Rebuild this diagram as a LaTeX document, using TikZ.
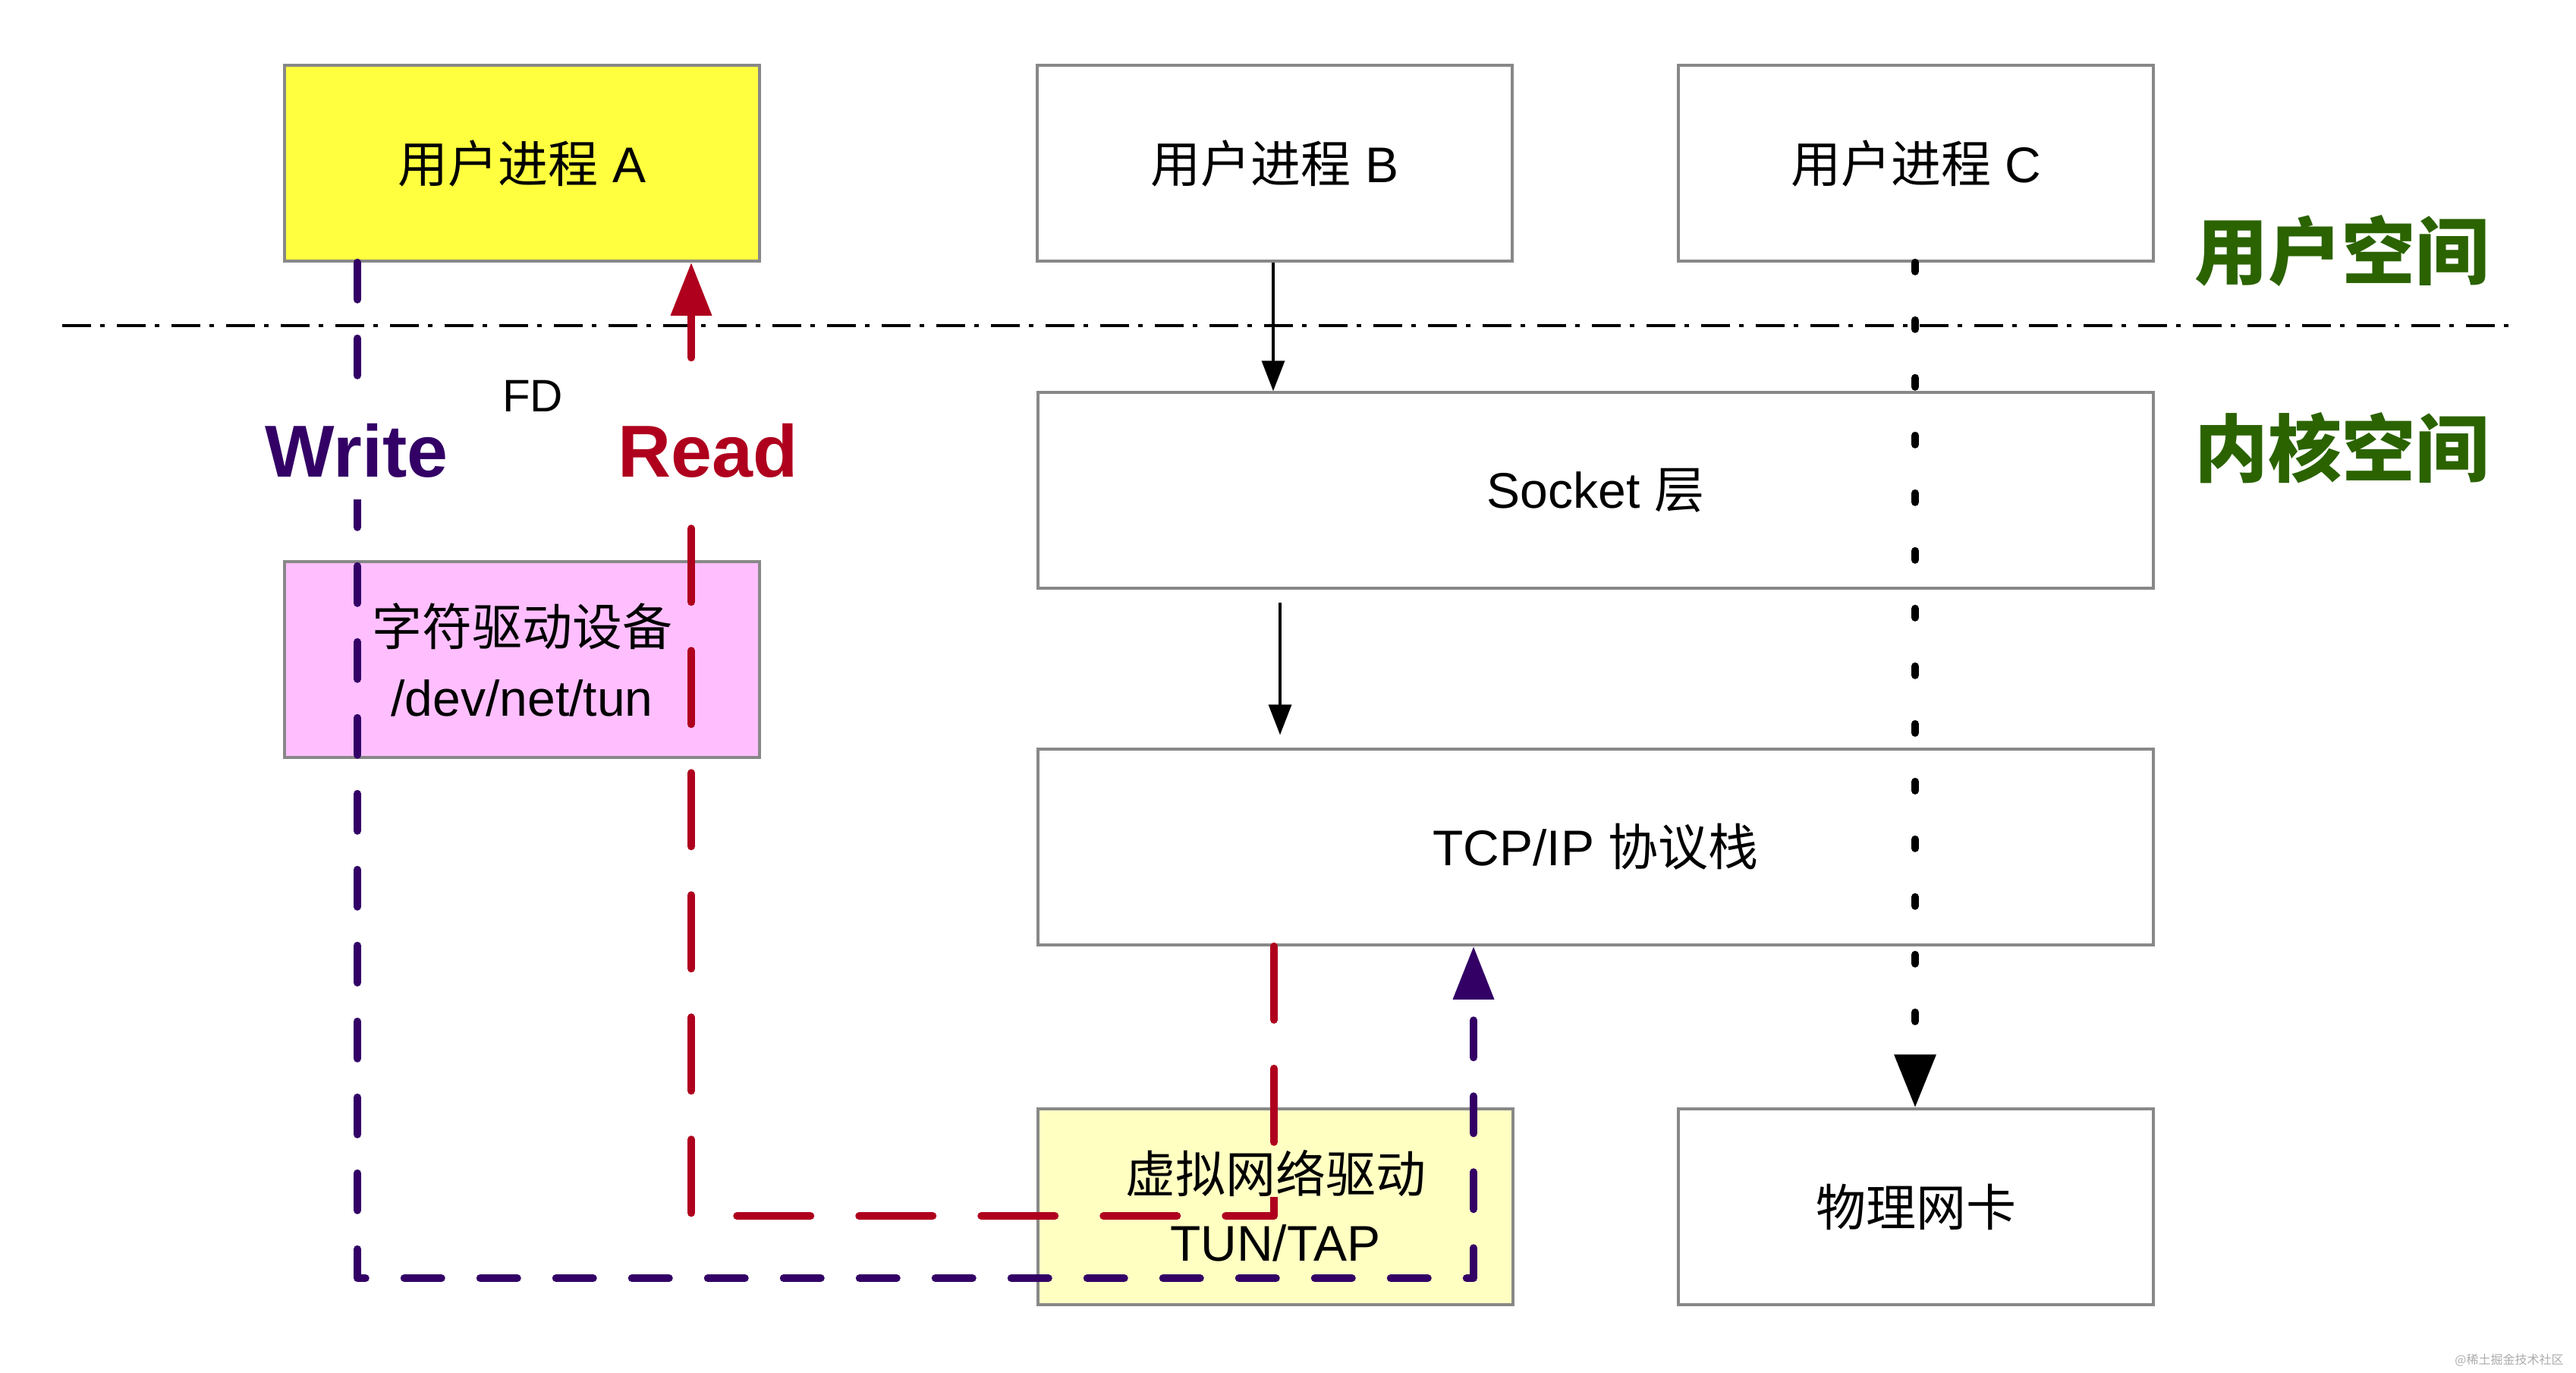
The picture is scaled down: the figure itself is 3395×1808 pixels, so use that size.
\documentclass[tikz,border=0pt]{standalone}
\usepackage{fontspec}
\setmainfont{Liberation Sans}
\newfontfamily\cjk{Noto Sans CJK SC}
\usetikzlibrary{arrows.meta}
\definecolor{boxgray}{RGB}{136,136,136}
\definecolor{yelA}{RGB}{255,255,64}
\definecolor{pinkD}{RGB}{255,191,255}
\definecolor{tunY}{RGB}{255,255,194}
\definecolor{wpurple}{RGB}{51,0,102}
\definecolor{rred}{RGB}{175,0,30}
\definecolor{sgreen}{RGB}{43,99,0}
\tikzset{
  box/.style={draw=boxgray, line width=3.5pt, minimum width=626pt, minimum height=258pt, inner sep=0pt},
  widebox/.style={box, minimum width=1470pt},
  btxt/.style={font=\fontsize{66}{93}\selectfont, align=center},
  thinarrow/.style={line width=3.5pt, -{Triangle[length=40pt,width=30pt]}},
  writeline/.style={draw=wpurple, line width=10pt, line cap=round, line join=round, dash pattern=on 49pt off 51pt, -{Triangle[length=70pt,width=52pt]}},
  readline/.style={draw=rred, line width=10pt, line cap=round, line join=round, dash pattern=on 97pt off 64pt, -{Triangle[length=70pt,width=52pt]}},
  dotline/.style={draw=black, line width=10pt, line cap=round, dash pattern=on 12pt off 64pt, -{Triangle[length=70pt,width=53pt]}},
  sepline/.style={draw=black, line width=4pt, dash pattern=on 38pt off 12pt on 6pt off 16pt},
  biglabel/.style={font=\fontsize{97}{110}\selectfont\bfseries},
  spacelabel/.style={font=\fontsize{97}{110}\selectfont\cjk\bfseries, text=sgreen},
}
\begin{document}
\begin{tikzpicture}[x=1pt,y=-1pt]
\useasboundingbox[fill=white] (0,0) rectangle (3395,1808);

% boxes
\node[box, fill=yelA, btxt] (A) at (688,215) {{\cjk 用户进程} A};
\node[box, fill=white, btxt] (B) at (1680,215) {{\cjk 用户进程} B};
\node[box, fill=white, btxt] (C) at (2525,215) {{\cjk 用户进程} C};
\node[box, fill=pinkD, btxt] (D) at (688,869) {{\cjk 字符驱动设备}\\/dev/net/tun};
\node[widebox, fill=white, btxt] (S) at (2103,646) {Socket {\cjk 层}};
\node[widebox, fill=white, btxt] (T) at (2103,1116) {TCP/IP {\cjk 协议栈}};
\node[box, fill=tunY] (V) at (1681,1590) {};
\node[box, fill=white, btxt] (N) at (2525,1590) {{\cjk 物理网卡}};

% separator
\coordinate (sepL) at (82,429);
\coordinate (sepR) at (3308,429);
\draw[sepline] (sepL) -- (sepR);

% thin arrows
\draw[thinarrow] (B.south -| 1678,0) -- (S.north -| 1678,0);
\draw[thinarrow, shorten <=17pt, shorten >=17pt] (S.south -| 1687,0) -- (T.north -| 1687,0);

% C -> NIC dashed
\draw[dotline] (C.south -| 2524,0) -- (N.north -| 2524,0);

% Write path
\coordinate (w1) at (471,1684);
\coordinate (w2) at (1942,1684);
\draw[writeline] (A.south -| w1) -- (w1) -- (w2) -- (T.south -| w2);

% Read path
\coordinate (r1) at (1679,1602);
\coordinate (r2) at (911,1602);
\draw[readline] (T.south -| r1) -- (r1) -- (r2) -- (A.south -| r2);

% TUN/TAP texts
\node[btxt, fill=tunY, inner sep=0pt] (V1) at (1681,1546) {\cjk 虚拟网络驱动};
\node[btxt, inner sep=0pt] (V2) at (1681,1638) {TUN/TAP};

% labels
\node[font=\fontsize{60}{70}\selectfont] (FD) at (702,522) {FD};
\node[biglabel, text=wpurple, fill=white, inner xsep=10pt, inner ysep=28pt] (W) at (470,594) {Write};
\node[biglabel, text=rred, fill=white, inner xsep=10pt, inner ysep=28pt] (R) at (933,594) {Read};
\node[spacelabel] (US) at (3086,331) {用户空间};
\node[spacelabel] (KS) at (3086,590) {内核空间};

% watermark
\node[font=\fontsize{16}{18}\selectfont\cjk, text=boxgray!70] (wm) at (3307,1792) {@稀土掘金技术社区};
\end{tikzpicture}
\end{document}
